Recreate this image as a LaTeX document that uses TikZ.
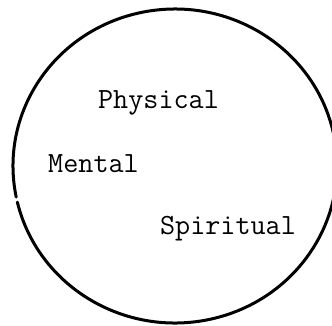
\documentclass[tikz,border=0pt]{standalone}
\usepackage{fontspec}
\usepackage{tikz}
\tikzset{
  ring/.style={draw=black,line width=3pt,line cap=round},
  term/.style={font=\ttfamily\fontsize{29.3}{32}\selectfont,inner sep=0pt,anchor=base}
}
\begin{document}
\begin{tikzpicture}[x=1pt,y=-1pt]
\useasboundingbox (0,0) rectangle (332,325);
\coordinate (mid) at (175,166);

\draw[ring] (mid) ++(168.6:162 and 157) arc[start angle=168.6,end angle=526.7,x radius=162,y radius=157];

\node[term] (physical) at (158.5,108) {Physical};
\node[term] (mental) at (93.5,172) {Mental};
\node[term] (spiritual) at (228,234) {Spiritual};
\end{tikzpicture}
\end{document}
